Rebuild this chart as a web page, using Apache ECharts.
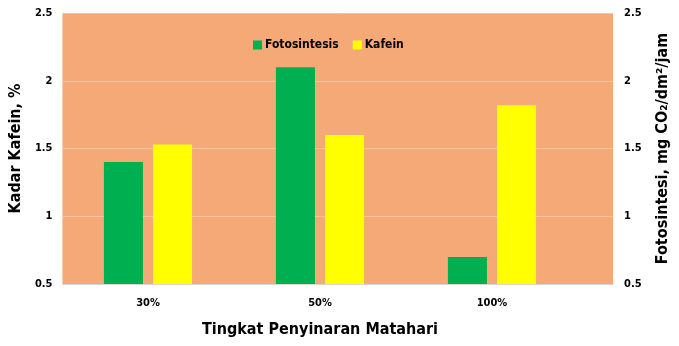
<!DOCTYPE html>
<html><head><meta charset="utf-8">
<script src="https://cdn.jsdelivr.net/npm/echarts@6/dist/echarts.min.js"></script>
<style>html,body{margin:0;padding:0;background:#fff}#c{width:679px;height:346px}</style>
</head><body><div id="c"></div>
<script>
const categories = ['30%', '50%', '100%'];
const fotosintesis = [1.40, 2.10, 0.70];
const kafein = [1.53, 1.60, 1.82];
const yTicks = [0.5, 1, 1.5, 2, 2.5];

const FONT = '"DejaVu Sans Condensed", "DejaVu Sans", sans-serif';
const chart = echarts.init(document.getElementById('c'));
const fmt = v => String(v);
chart.setOption({
  animation: false,
  backgroundColor: '#ffffff',
  textStyle: {fontFamily: FONT},
  legend: {
    data: ['Fotosintesis', 'Kafein'], left: 248, top: 34,
    itemWidth: 9, itemHeight: 9, itemGap: 14, icon: 'rect',
    textStyle: {fontFamily: FONT, fontWeight: 'bold', fontSize: 12, color: '#000', padding: [0,0,0,-2]}
  },
  grid: [
    {left: 62, right: 65, top: 13, bottom: 62, show: true, backgroundColor: '#F4A977', borderWidth: 0},
    {left: 62, right: 101, top: 13, bottom: 62}
  ],
  xAxis: [
    {gridIndex: 0, type: 'category', data: categories,
     axisLine: {show: true, lineStyle: {color: '#D9D9D9', type: 'dotted', width: 1}},
     axisTick: {show: false}, axisLabel: {show: false}, splitLine: {show: false}},
    {gridIndex: 1, type: 'category', data: categories,
     name: 'Tingkat Penyinaran Matahari', nameLocation: 'middle', nameGap: 38,
     nameTextStyle: {fontFamily: FONT, fontWeight: 'bold', fontSize: 16, color: '#000'},
     axisLine: {show: false}, axisTick: {show: false},
     axisLabel: {margin: 14, fontFamily: FONT, fontWeight: 'bold', fontSize: 11, color: '#000'}}
  ],
  yAxis: [
    {gridIndex: 0, type: 'value', min: 0.5, max: 2.5, interval: 0.5, position: 'left',
     name: 'Kadar Kafein, %', nameLocation: 'middle', nameGap: 35,
     nameTextStyle: {fontFamily: FONT, fontWeight: 'bold', fontSize: 16, color: '#000'},
     axisLine: {show: false}, axisTick: {show: false},
     axisLabel: {margin: 10, fontFamily: FONT, fontWeight: 'bold', fontSize: 11, color: '#000', formatter: fmt},
     splitLine: {show: true, lineStyle: {color: '#F6C3A3', width: 1}}},
    {gridIndex: 0, type: 'value', min: 0.5, max: 2.5, interval: 0.5, position: 'right',
     name: 'Fotosintesi, mg CO\u2082/dm\u00b2/jam', nameLocation: 'middle', nameGap: 42, nameRotate: 90,
     nameTextStyle: {fontFamily: FONT, fontWeight: 'bold', fontSize: 16, color: '#000'},
     axisLine: {show: false}, axisTick: {show: false},
     axisLabel: {margin: 11, fontFamily: FONT, fontWeight: 'bold', fontSize: 11, color: '#000', formatter: fmt},
     splitLine: {show: false}},
    {gridIndex: 1, type: 'value', min: 0.5, max: 2.5, interval: 0.5, show: false},
    {gridIndex: 1, type: 'value', min: 0.5, max: 2.5, interval: 0.5, show: false, position: 'right'}
  ],
  series: [
    {name: 'Fotosintesis', type: 'bar', xAxisIndex: 1, yAxisIndex: 3, data: fotosintesis,
     barWidth: 39, barGap: '26%', itemStyle: {color: '#00B050'}},
    {name: 'Kafein', type: 'bar', xAxisIndex: 1, yAxisIndex: 2, data: kafein,
     barWidth: 39, barGap: '26%', itemStyle: {color: '#FFFF00'}}
  ]
});
</script></body></html>
